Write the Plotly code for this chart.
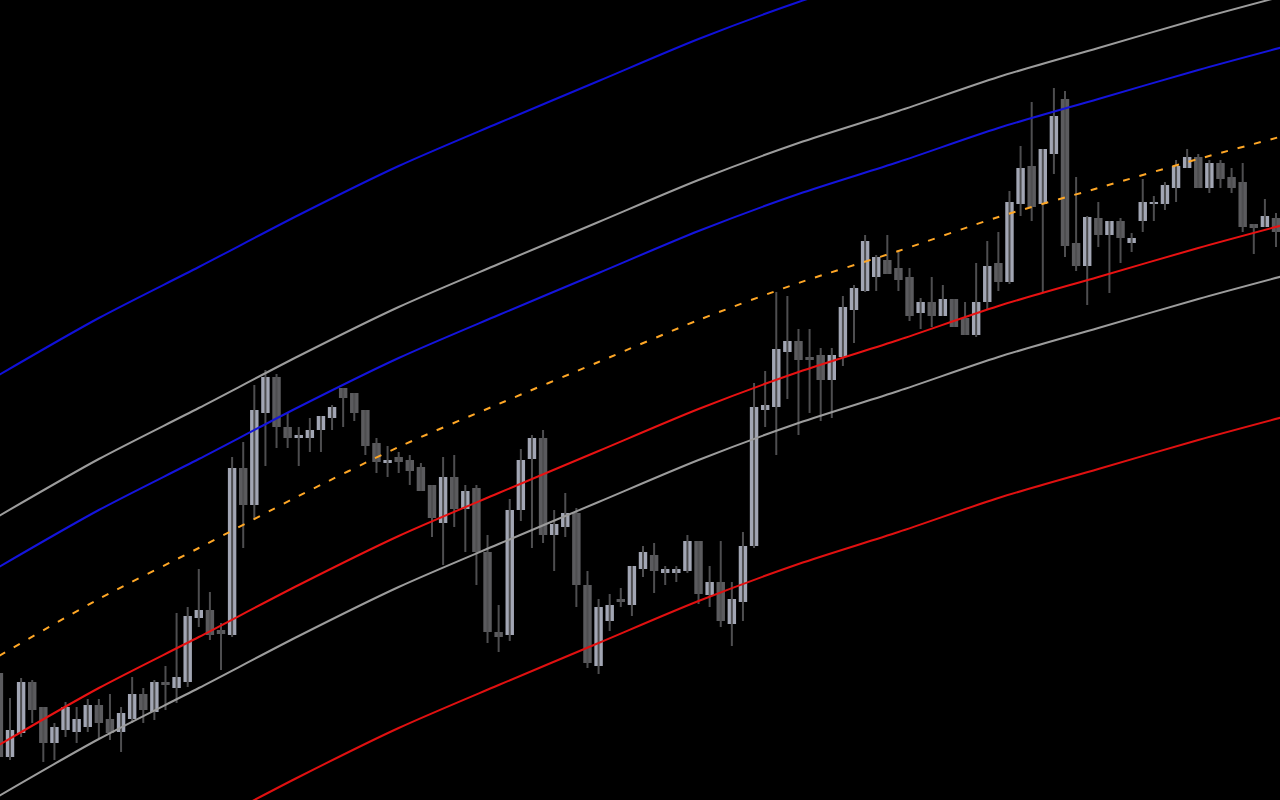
import plotly.graph_objects as go

# ---- candle data (index 0..115) ----
opens = [127, 43, 67, 118, 93, 57, 70, 68, 73, 95, 81, 68, 81, 106, 88, 118, 112, 118, 182, 190,
         170, 165, 332, 295, 387, 423, 373, 362, 362, 370, 382, 412, 407, 390, 357, 337, 343, 340, 333, 315,
         277, 323, 291, 312, 248, 168, 165, 290, 341, 362, 265, 273, 287, 215, 134, 179, 201, 195, 231, 245,
         227, 227, 229, 259, 205, 218, 176, 198, 254, 390, 393, 448, 459, 443, 445, 420, 443, 490, 509, 523,
         540, 532, 523, 487, 498, 484, 501, 482, 465, 498, 537, 518, 596, 634, 596, 646, 701, 557, 534, 582,
         565, 579, 557, 579, 596, 596, 612, 632, 643, 612, 637, 623, 618, 576, 573, 582]
highs = [137, 102, 122, 120, 93, 77, 98, 93, 101, 101, 106, 93, 123, 112, 120, 134, 187, 193, 231, 208,
         177, 343, 358, 415, 430, 426, 387, 373, 382, 384, 395, 412, 407, 390, 362, 354, 348, 345, 337, 315,
         343, 345, 315, 315, 265, 195, 301, 351, 365, 370, 290, 307, 292, 229, 201, 206, 212, 234, 254, 257,
         234, 234, 265, 259, 234, 259, 218, 268, 417, 429, 508, 504, 471, 471, 452, 452, 504, 515, 565, 545,
         565, 550, 532, 502, 523, 515, 501, 498, 537, 559, 568, 609, 654, 698, 651, 712, 709, 623, 584, 598,
         579, 582, 567, 621, 604, 618, 640, 651, 646, 640, 640, 632, 637, 576, 601, 587]
lows = [30, 40, 63, 77, 38, 40, 63, 57, 68, 62, 60, 48, 77, 77, 80, 90, 97, 113, 173, 160,
        130, 163, 252, 280, 334, 352, 352, 334, 348, 348, 370, 373, 379, 345, 327, 323, 327, 315, 309, 263,
        235, 273, 248, 215, 157, 148, 159, 279, 252, 257, 229, 263, 193, 132, 126, 169, 193, 184, 223, 207,
        215, 218, 227, 196, 193, 173, 154, 179, 252, 373, 345, 401, 365, 387, 379, 382, 434, 457, 508, 509,
        526, 509, 479, 471, 473, 484, 473, 465, 463, 490, 509, 516, 584, 579, 508, 626, 543, 529, 495, 553,
        507, 537, 548, 568, 579, 590, 598, 632, 612, 607, 612, 607, 568, 546, 573, 553]
closes = [43, 70, 118, 90, 57, 73, 93, 81, 95, 77, 67, 87, 106, 90, 118, 115, 123, 184, 190, 165,
          166, 332, 295, 390, 423, 373, 362, 365, 370, 384, 393, 402, 387, 354, 338, 340, 338, 329, 309, 282,
          323, 291, 309, 248, 168, 163, 290, 340, 362, 265, 276, 287, 215, 137, 193, 195, 198, 234, 248, 229,
          231, 231, 259, 206, 218, 179, 201, 254, 393, 395, 451, 459, 440, 440, 420, 445, 493, 512, 559, 543,
          526, 520, 484, 498, 484, 501, 473, 465, 498, 534, 518, 598, 632, 593, 651, 684, 554, 534, 583, 565,
          579, 562, 562, 598, 598, 615, 634, 643, 612, 637, 621, 612, 573, 572, 584, 568]

# ---- channel lines, sampled at candle indices ----
line_x = [0, 9, 18, 27, 36, 45, 54, 63, 72, 81, 90, 99, 108, 116]
mid_line = [144, 201, 252, 304, 353, 396, 438, 480, 517, 549, 583, 612, 641, 665]
upper1 = [233, 290, 341, 393, 442, 485, 527, 569, 606, 638, 672, 701, 730, 754]
lower1 = [55, 112, 163, 215, 264, 307, 349, 391, 428, 460, 494, 523, 552, 576]
upper2 = [284, 341, 392, 444, 493, 536, 578, 620, 657, 689, 723, 752, 781, 805]
lower2 = [4, 61, 112, 164, 213, 256, 298, 340, 377, 409, 443, 472, 501, 525]
upper3 = [425, 482, 533, 585, 634, 677, 719, 761, 798, 830, 864, 893, 922, 946]
lower3 = [-137, -80, -29, 23, 72, 115, 157, 199, 236, 268, 302, 331, 360, 384]

UP_COL = "#a2a6b4"
DN_COL = "#5b5b5e"
WICK_COL = "#4e4e50"

n = len(opens)
idx = list(range(n))

fig = go.Figure()

# wicks
wx, wy = [], []
for i in idx:
    wx += [i, i, None]
    wy += [lows[i], highs[i], None]
fig.add_trace(go.Scatter(x=wx, y=wy, mode="lines",
                         line=dict(color=WICK_COL, width=2), hoverinfo="skip"))

# bodies
for up, col in [(True, UP_COL), (False, DN_COL)]:
    bx, bb, bh = [], [], []
    for i in idx:
        if (closes[i] >= opens[i]) == up:
            bx.append(i)
            bb.append(min(opens[i], closes[i]))
            bh.append(abs(closes[i] - opens[i]))
    fig.add_trace(go.Bar(x=bx, y=bh, base=bb, width=0.76,
                         marker=dict(color=col, line=dict(width=0))))

# channel lines
def add_line(vals, color, dash="solid", width=2):
    fig.add_trace(go.Scatter(x=line_x, y=vals, mode="lines",
                             line=dict(color=color, width=width, dash=dash,
                                       shape="spline", smoothing=0.8),
                             hoverinfo="skip"))

add_line(lower3, "#e01010")
add_line(upper3, "#1010d8")
add_line(lower2, "#9c9c9c")
add_line(upper2, "#9c9c9c")
add_line(lower1, "#e81212")
add_line(upper1, "#1414dc")
add_line(mid_line, "#ffa726", dash="7px,10px")

fig.update_layout(
    width=1280, height=800,
    margin=dict(l=0, r=0, t=0, b=0),
    paper_bgcolor="#000000", plot_bgcolor="#000000",
    showlegend=False, barmode="overlay",
    xaxis=dict(visible=False, range=[0.099, 115.36], fixedrange=True),
    yaxis=dict(visible=False, range=[0, 800], fixedrange=True),
)

fig.write_html("out.html",
               config={"displayModeBar": False, "staticPlot": True},
               post_script="document.body.style.margin='0';document.body.style.background='#000';")
